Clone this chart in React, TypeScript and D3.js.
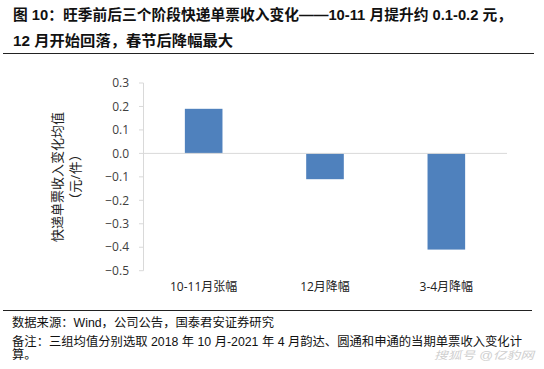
import React from "react";
import * as d3 from "d3";

const categories = ["10-11月张幅", "12月降幅", "3-4月降幅"];
const values = [0.19, -0.11, -0.41];
const yTicks = [0.3, 0.2, 0.1, 0.0, -0.1, -0.2, -0.3, -0.4, -0.5];
const titleLines = [
  "图 10：旺季前后三个阶段快递单票收入变化——10-11 月提升约 0.1-0.2 元，",
  "12 月开始回落，春节后降幅最大",
];
const yTitle = ["快递单票收入变化均值", "（元/件）"];
const notes = [
  "数据来源：Wind，公司公告，国泰君安证券研究",
  "备注：三组均值分别选取 2018 年 10 月-2021 年 4 月韵达、圆通和申通的当期单票收入变化计",
  "算。",
];

const W = 544;
const H = 369;
const CJK = "'Liberation Sans', 'Noto Sans CJK SC', sans-serif";
const LBL = "'Open Sans', 'Noto Sans CJK SC', sans-serif";

export default function App() {
  const x = d3.scaleBand<string>().domain(categories).range([143, 507]).paddingInner(0.69).paddingOuter(0.345);
  const y = d3.scaleLinear().domain([-0.5, 0.3]).range([270.7, 83]);
  const bw = x.bandwidth();
  const titleLens = [499, 220];
  const noteY = [327, 346, 359];
  const noteLens = [262, 510, null];
  const yTitleLens = [130, 58];
  return (
    <svg width={W} height={H} style={{ position: "absolute", left: 0, top: 0, background: "#fff" }}>
      <rect width={W} height={H} fill="#fff" />
      {titleLines.map((t, i) => (
        <text
          key={i}
          x={13}
          y={20 + i * 26}
          fontFamily={CJK}
          fontWeight="bold"
          fontSize={14.5}
          fill="#111"
          textLength={titleLens[i]}
          lengthAdjust="spacingAndGlyphs"
        >
          {t}
        </text>
      ))}
      <line x1={3} x2={534} y1={53.5} y2={53.5} stroke="#222" strokeWidth={1} />
      {/* y axis */}
      <line x1={143.5} x2={143.5} y1={y(0.3)} y2={y(-0.5)} stroke="#d9d9d9" />
      {yTicks.map((t) => (
        <g key={t}>
          <line x1={139} x2={143.5} y1={y(t)} y2={y(t)} stroke="#d9d9d9" />
          <text x={129} y={y(t)} dy="0.35em" textAnchor="end" fontFamily={LBL} fontSize={12} fill="#404040">
            {d3.format(".1f")(t)}
          </text>
        </g>
      ))}
      {/* bars */}
      {values.map((v, i) => (
        <rect
          key={i}
          x={x(categories[i])!}
          width={bw}
          y={y(Math.max(0, v))}
          height={Math.abs(y(v) - y(0))}
          fill="#4f81bd"
        />
      ))}
      <line x1={143.5} x2={507} y1={y(0)} y2={y(0)} stroke="#d9d9d9" />
      {categories.map((c) => (
        <text key={c} x={x(c)! + bw / 2} y={287} dy="0.35em" textAnchor="middle" fontFamily={LBL} fontSize={12} fill="#222">
          {c}
        </text>
      ))}
      {yTitle.map((t, i) => (
        <text
          key={i}
          transform={`translate(${57 + i * 18},${177}) rotate(-90)`}
          textAnchor="middle"
          dy="0.35em"
          fontFamily={LBL}
          fontSize={13}
          fill="#222"
          textLength={yTitleLens[i]}
          lengthAdjust="spacing"
        >
          {t}
        </text>
      ))}
      <line x1={3} x2={532} y1={310.5} y2={310.5} stroke="#222" strokeWidth={1} />
      {notes.map((t, i) => (
        <text
          key={i}
          x={12}
          y={noteY[i]}
          fontFamily={CJK}
          fontSize={12.3}
          fill="#111"
          {...(noteLens[i] ? { textLength: noteLens[i]!, lengthAdjust: "spacingAndGlyphs" } : {})}
        >
          {t}
        </text>
      ))}
      <text
        x={434}
        y={359}
        fontFamily={CJK}
        fontSize={10.5}
        fill="#cfcfcf"
        fontStyle="italic"
        textLength={100}
        lengthAdjust="spacingAndGlyphs"
      >
        搜狐号 @亿豹网
      </text>
    </svg>
  );
}
